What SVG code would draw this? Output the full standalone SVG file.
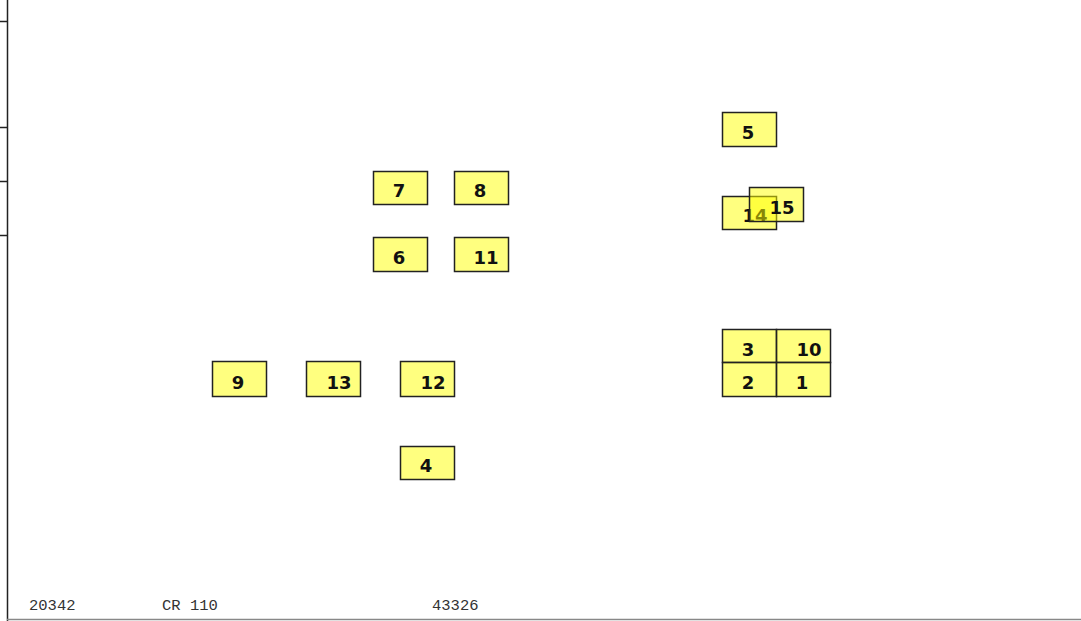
<svg xmlns="http://www.w3.org/2000/svg" width="1081" height="621" viewBox="0 0 1081 621">
<style>
.b rect{fill:#ffff00;fill-opacity:0.5;stroke:#222;stroke-width:1.5}
.b text{font-family:"DejaVu Sans","Liberation Sans",sans-serif;font-weight:bold;font-size:18px;fill:#111;text-anchor:middle}
.f{font-family:"Liberation Mono",monospace;font-size:15.5px;fill:#333}
</style>
<rect x="0" y="0" width="1081" height="621" fill="#ffffff"/>
<g id="frame" stroke="#222" stroke-width="1.5" fill="none">
<line x1="7.5" y1="0" x2="7.5" y2="621"/>
<line x1="0" y1="21.5" x2="7.5" y2="21.5"/>
<line x1="0" y1="127.5" x2="7.5" y2="127.5"/>
<line x1="0" y1="181.5" x2="7.5" y2="181.5"/>
<line x1="0" y1="235.5" x2="7.5" y2="235.5"/>
<line x1="7" y1="619.5" x2="1081" y2="619.5" stroke="#888"/>
</g>
<g id="connectors"></g>
<g id="n5" class="b"><rect x="722.5" y="112.5" width="54" height="34"/><text x="748" y="139">5</text></g>
<g id="n14" class="b"><rect x="722.5" y="196.5" width="54" height="33"/><text x="755" y="222">14</text></g>
<g id="n15" class="b"><rect x="749.5" y="187.5" width="54" height="34"/><text x="782" y="214">15</text></g>
<g id="n7" class="b"><rect x="373.5" y="171.5" width="54" height="33"/><text x="399" y="197">7</text></g>
<g id="n8" class="b"><rect x="454.5" y="171.5" width="54" height="33"/><text x="480" y="197">8</text></g>
<g id="n6" class="b"><rect x="373.5" y="237.5" width="54" height="34"/><text x="399" y="264">6</text></g>
<g id="n11" class="b"><rect x="454.5" y="237.5" width="54" height="34"/><text x="486" y="264">11</text></g>
<g id="n9" class="b"><rect x="212.5" y="361.5" width="54" height="35"/><text x="238" y="389">9</text></g>
<g id="n13" class="b"><rect x="306.5" y="361.5" width="54" height="35"/><text x="339" y="389">13</text></g>
<g id="n12" class="b"><rect x="400.5" y="361.5" width="54" height="35"/><text x="433" y="389">12</text></g>
<g id="n4" class="b"><rect x="400.5" y="446.5" width="54" height="33"/><text x="426" y="472">4</text></g>
<g id="n3" class="b"><rect x="722.5" y="329.5" width="54" height="33"/><text x="748" y="356">3</text></g>
<g id="n10" class="b"><rect x="776.5" y="329.5" width="54" height="33"/><text x="809" y="356">10</text></g>
<g id="n2" class="b"><rect x="722.5" y="362.5" width="54" height="34"/><text x="748" y="389">2</text></g>
<g id="n1" class="b"><rect x="776.5" y="362.5" width="54" height="34"/><text x="802" y="389">1</text></g>
<g id="footer">
<text class="f" x="29" y="610">20342</text>
<text class="f" x="162" y="610">CR 110</text>
<text class="f" x="432" y="610">43326</text>
</g>
</svg>
